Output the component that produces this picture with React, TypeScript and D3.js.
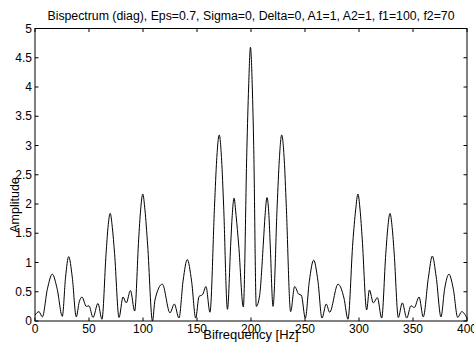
import { useEffect, useRef } from "react"
import * as d3 from "d3"

// values (Hz, amplitude)
const freqs = [
    0, 3.7, 6.8, 11.5, 16, 20.5, 25.3, 28.3, 31.2, 34.5, 38.2, 41, 43.5, 47.5, 50, 53.7, 58.3, 62,
    65.8, 67.6, 69.6, 71.6, 73.7, 77.8, 81.5, 84.5, 88.4, 92.3, 96, 97.8, 99.8, 101.8, 104.3, 108.8,
    111.1, 117.9, 125, 129, 133.3, 137.2, 141, 145, 148.8, 151.9, 155.1, 158.3, 162,
    166.3, 168.2, 170.6, 172.8, 174.6, 178.2, 181.3, 182.6, 184.3, 186.2, 188.6, 192.9,
    196.2, 197.8, 199.5, 201.2, 202.5, 204.9, 208, 211.5, 213, 214.8, 216.6, 217.8, 220.4,
    224.3, 226.2, 228.4, 230.8, 232.6, 236.7, 240.4, 244.1, 246.6, 250.3, 254, 258, 262, 265.7,
    269.7, 272.8, 280.6, 286.1, 289.8, 294.3, 296.9, 299, 301, 303, 307.1, 309.6, 313.3, 317, 321,
    324.8, 326.7, 328.7, 330.7, 332.6, 336.4, 340.1, 344.2, 348.1, 351.2, 355.6, 359.5,
    364.3, 367.9, 371.5, 375.9, 379.3, 383.3, 387.3, 391.4, 395.1, 400,
]
const amps = [
    0.1, 0.16, 0.07, 0.55, 0.8, 0.55, 0.08, 0.75, 1.1, 0.75, 0.07, 0.33, 0.41, 0.25, 0.26, 0.06, 0.3, 0.03,
    1.15, 1.6, 1.84, 1.6, 1.15, 0.06, 0.41, 0.31, 0.52, 0.17, 1.4, 1.9, 2.17, 1.9, 1.3, 0.0,
    0.36, 0.63, 0.14, 0.29, 0.05, 0.7, 1.05, 0.68, 0.05, 0.42, 0.45, 0.59, 0.15,
    2.0, 2.75, 3.18, 2.75, 2.0, 0.2, 1.35, 1.8, 2.1, 1.8, 1.3, 0.24,
    2.95, 4.0, 4.68, 4.0, 3.0, 0.25, 0.44, 1.35, 1.8, 2.11, 1.8, 1.3, 0.25,
    2.0, 2.75, 3.18, 2.75, 2.0, 0.16, 0.59, 0.46, 0.44, 0.05, 0.68, 1.04, 0.68, 0.05,
    0.29, 0.15, 0.63, 0.39, 0.03, 1.35, 1.9, 2.17, 1.9, 1.4, 0.19, 0.53, 0.31, 0.4, 0.05,
    1.15, 1.6, 1.84, 1.6, 1.15, 0.06, 0.31, 0.05, 0.26, 0.23, 0.41, 0.07,
    0.75, 1.11, 0.75, 0.07, 0.55, 0.8, 0.55, 0.06, 0.16, 0.05,
]
const xTicks = [0, 50, 100, 150, 200, 250, 300, 350, 400]
const yTicks = [0, 0.5, 1, 1.5, 2, 2.5, 3, 3.5, 4, 4.5, 5]
const title = "Bispectrum (diag), Eps=0.7, Sigma=0, Delta=0, A1=1, A2=1, f1=100, f2=70"

const W = 474
const H = 347
const FONT = "'Liberation Sans', Arial, sans-serif"

export default function App() {
    const svgRef = useRef<SVGSVGElement | null>(null)

    useEffect(() => {
        if (!svgRef.current) return
        const margin = { top: 28.5, right: 7, bottom: 26, left: 35 }
        const innerW = W - margin.left - margin.right
        const innerH = H - margin.top - margin.bottom

        const svg = d3.select(svgRef.current)
        svg.selectAll("*").remove()

        const x = d3.scaleLinear().domain([0, 400]).range([margin.left, margin.left + innerW])
        const y = d3.scaleLinear().domain([0, 5]).range([margin.top + innerH, margin.top])

        const g = svg.append("g")

        // curve
        const pts = freqs.map((f, i) => [f, amps[i]] as [number, number])
        const line = d3.line<[number, number]>()
            .x((d) => x(d[0]))
            .y((d) => y(d[1]))
            .curve(d3.curveMonotoneX)
        g.append("path")
            .datum(pts)
            .attr("fill", "none")
            .attr("stroke", "#000")
            .attr("stroke-width", 1)
            .attr("d", line)

        // box
        g.append("rect")
            .attr("x", margin.left)
            .attr("y", margin.top)
            .attr("width", innerW)
            .attr("height", innerH)
            .attr("fill", "none")
            .attr("stroke", "#000")
            .attr("stroke-width", 1)

        const tl = 3.5
        // ticks point inward, on all four sides
        xTicks.forEach((t) => {
            g.append("line").attr("x1", x(t)).attr("x2", x(t))
                .attr("y1", y(0)).attr("y2", y(0) - tl).attr("stroke", "#000")
            g.append("line").attr("x1", x(t)).attr("x2", x(t))
                .attr("y1", y(5)).attr("y2", y(5) + tl).attr("stroke", "#000")
            g.append("text")
                .attr("x", x(t))
                .attr("y", y(0) + 12)
                .attr("text-anchor", "middle")
                .attr("font-family", FONT)
                .attr("font-size", 12)
                .attr("fill", "#000")
                .text(t)
        })
        yTicks.forEach((t) => {
            g.append("line").attr("x1", x(0)).attr("x2", x(0) + tl)
                .attr("y1", y(t)).attr("y2", y(t)).attr("stroke", "#000")
            g.append("line").attr("x1", x(400)).attr("x2", x(400) - tl)
                .attr("y1", y(t)).attr("y2", y(t)).attr("stroke", "#000")
            g.append("text")
                .attr("x", x(0) - 3)
                .attr("y", y(t) + 4)
                .attr("text-anchor", "end")
                .attr("font-family", FONT)
                .attr("font-size", 12)
                .attr("fill", "#000")
                .text(t)
        })

        // labels
        svg.append("text")
            .attr("x", (x(0) + x(400)) / 2)
            .attr("y", 20)
            .attr("text-anchor", "middle")
            .attr("font-family", FONT)
            .attr("font-size", 12.3)
            .attr("fill", "#000")
            .text(title)

        svg.append("text")
            .attr("x", (x(0) + x(400)) / 2)
            .attr("y", 338.5)
            .attr("text-anchor", "middle")
            .attr("font-family", FONT)
            .attr("font-size", 13)
            .attr("fill", "#000")
            .text("Bifrequency [Hz]")

        svg.append("text")
            .attr("transform", "translate(19,205) rotate(-90)")
            .attr("text-anchor", "middle")
            .attr("font-family", FONT)
            .attr("font-size", 12.5)
            .attr("fill", "#000")
            .text("Amplitude")
    }, [])

    return (
        <div style={{ position: "fixed", left: 0, top: 0, width: W, height: H, background: "#fff" }}>
            <svg ref={svgRef} width={W} height={H} style={{ display: "block" }} />
        </div>
    )
}
